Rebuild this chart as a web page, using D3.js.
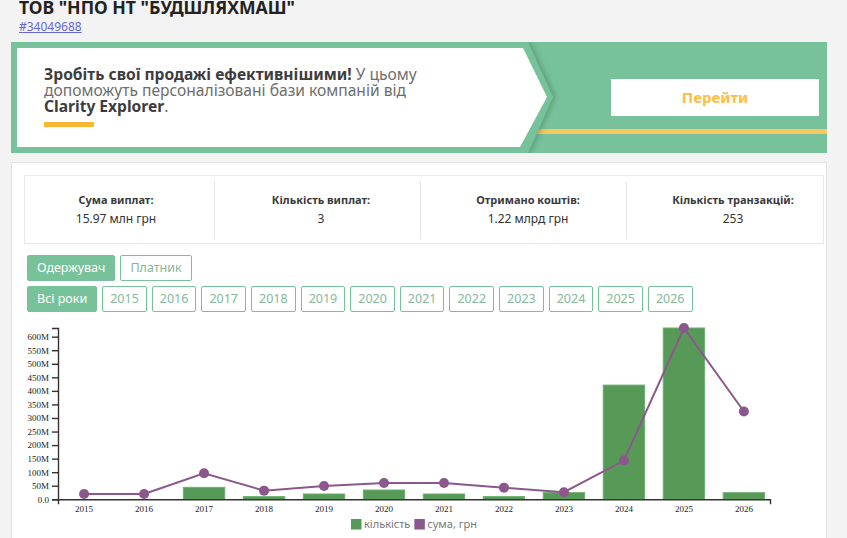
<!DOCTYPE html>
<html>
<head>
<meta charset="utf-8">
<script src="https://cdn.jsdelivr.net/npm/d3@7"></script>
<style>
  body { margin: 0; background: #f3f3f3; font-family: "Noto Sans", sans-serif; width: 847px; height: 538px; overflow: hidden; position: relative; }
  .abs { position: absolute; }
  #title { left: 19px; top: -5px; font-size: 17.6px; font-weight: 700; color: #222; white-space: nowrap; }
  #code { left: 19px; top: 18px; font-size: 12px; color: #6767d8; text-decoration: underline; }
  #banner { left: 11px; top: 42px; width: 816px; height: 111px; }
  #promo { left: 44px; top: 66px; font-size: 15.6px; line-height: 16px; color: #6e6e6e; white-space: nowrap; }
  #promo b { color: #3d3d3d; }
  #go { left: 611px; top: 79px; width: 208px; height: 37px; background: #fff; color: #fbbd45; font-weight: 700; font-size: 15px; text-align: center; line-height: 37px; }
  #card { left: 11px; top: 162px; width: 814px; height: 400px; background: #fff; border: 1px solid #e2e2e2; }
  #stats { left: 24px; top: 175px; width: 798px; height: 67px; border: 1px solid #e9e9e9; }
  .cell { top: 0; height: 67px; text-align: center; font-size: 12px; color: #333; }
  .cell .lab { font-weight: 700; font-size: 11px; margin-top: 16px; color: #3a3a3a; }
  .cell .val { margin-top: 3px; }
  .div { top: 5px; width: 1px; height: 58px; background: #e6e6e6; }
  .row { left: 27px; display: flex; gap: 5px; }
  .btn { height: 24px; line-height: 24px; border: 1px solid #78c29b; border-radius: 2px; padding: 0 9px; font-size: 12.5px; color: #84b89a; background: #fff; }
  #yrs .btn { padding: 0 7px; }
  #yrs .btn.on { padding: 0 9px; }
  .btn.on { background: #78c29b; color: #fff; }
</style>
</head>
<body>
<div id="title" class="abs">ТОВ "НПО НТ "БУДШЛЯХМАШ"</div>
<div id="code" class="abs">#34049688</div>
<svg id="banner" class="abs"></svg>
<div id="promo" class="abs"><b>Зробіть свої продажі ефективнішими!</b> У цьому<br>допоможуть персоналізовані бази компаній від<br><b>Clarity Explorer</b>.</div>
<div id="go" class="abs">Перейти</div>
<div id="card" class="abs"></div>
<div id="stats" class="abs"></div>
<div id="who" class="row abs" style="top:255px"></div>
<div id="yrs" class="row abs" style="top:286px"></div>
<svg id="chart" class="abs" style="left:0;top:0" width="847" height="538"></svg>
<script>
const years = ["2015", "2016", "2017", "2018", "2019", "2020", "2021", "2022", "2023", "2024", "2025", "2026"];
const counts = [0, 0, 9, 2, 4, 7, 4, 2, 5, 86, 129, 5];
const sums = [19.6e6, 19.6e6, 96e6, 32e6, 49e6, 60e6, 60e6, 43e6, 26e6, 143e6, 632e6, 324e6];
const statLabels = ["Сума виплат:", "Кількість виплат:", "Отримано коштів:", "Кількість транзакцій:"];
const statValues = ["15.97 млн грн", "3", "1.22 млрд грн", "253"];
const roles = ["Одержувач", "Платник"];
const legendNames = ["кількість", "сума, грн"];

const green = "#579a58";
const purple = "#8b578c";

// banner
const banner = d3.select("#banner");
banner.append("rect").attr("width", 816).attr("height", 111).attr("fill", "#78c29b");
const defs = banner.append("defs");
const f = defs.append("filter").attr("id", "sh").attr("x", "-10%").attr("y", "-10%").attr("width", "120%").attr("height", "120%");
f.append("feDropShadow").attr("dx", 2).attr("dy", 0).attr("stdDeviation", 3).attr("flood-color", "#3f7f5c").attr("flood-opacity", 0.6);
banner.append("rect").attr("x", 524).attr("y", 87).attr("width", 292).attr("height", 5).attr("fill", "#f8c95e");
banner.append("path")
  .attr("d", "M0,0 L517,0 L542,55 L517,111 L0,111 Z")
  .attr("fill", "#78c29b").attr("filter", "url(#sh)");
banner.append("path")
  .attr("d", "M6,6 L512,6 L536,55 L509,105 L6,105 Z")
  .attr("fill", "#fff");
banner.append("rect").attr("x", 33).attr("y", 80).attr("width", 50).attr("height", 5).attr("fill", "#fbb731");

// stats
const stats = d3.select("#stats");
const centers = [91, 296, 503, 708];
statLabels.forEach((l, i) => {
  const c = stats.append("div").attr("class", "cell abs")
    .style("left", (centers[i] - 100) + "px").style("width", "200px");
  c.append("div").attr("class", "lab").text(l);
  c.append("div").attr("class", "val").text(statValues[i]);
});
[189, 395, 601].forEach((x) => stats.append("div").attr("class", "div abs").style("left", x + "px"));

d3.select("#who").selectAll("div").data(roles).join("div")
  .attr("class", (d, i) => "btn" + (i === 0 ? " on" : "")).text((d) => d);
d3.select("#yrs").selectAll("div").data(["Всі роки"].concat(years)).join("div")
  .attr("class", (d, i) => "btn" + (i === 0 ? " on" : "")).text((d) => d);

// chart
const svg = d3.select("#chart");
const ox = 58, oy = 328, w = 712, h = 171.3;
const g = svg.append("g").attr("transform", `translate(${ox},${oy})`);

const x = d3.scaleBand().domain(years).range([0, w]).paddingInner(0.31).paddingOuter(0.09);
const y = d3.scaleLinear().domain([0, d3.max(sums)]).range([h, 0]);
const yc = d3.scaleLinear().domain([0, d3.max(counts)]).range([h, 0]);

g.selectAll(".bar").data(years).join("rect")
  .attr("class", "bar")
  .attr("x", (d) => x(d))
  .attr("y", (d, i) => yc(counts[i]))
  .attr("width", x.bandwidth())
  .attr("height", (d, i) => h - yc(counts[i]))
  .attr("fill", green).attr("stroke", "#6cae6d").attr("stroke-width", 1);

const cx = (d) => x(d) + x.bandwidth() / 2;
g.append("path")
  .datum(years)
  .attr("fill", "none").attr("stroke", purple).attr("stroke-width", 2)
  .attr("d", d3.line().x(cx).y((d, i) => y(sums[i])));
g.selectAll(".dot").data(years).join("circle")
  .attr("cx", cx).attr("cy", (d, i) => y(sums[i])).attr("r", 5).attr("fill", purple);

const xa = g.append("g").attr("transform", `translate(0,${h})`)
  .call(d3.axisBottom(x).tickSizeInner(0).tickSizeOuter(5).tickPadding(6));
const ya = g.append("g").call(d3.axisLeft(y).tickFormat(d3.format(".2s")).tickSizeOuter(6));
[xa, ya].forEach((a) => {
  a.selectAll("text").attr("font-family", "'Liberation Serif', serif").attr("font-size", 9).attr("fill", "#222");
  a.selectAll("path,line").attr("stroke", "#333").attr("stroke-width", 1.4);
});

const lg = svg.append("g").attr("transform", "translate(351,519)");
let lx = 0;
legendNames.forEach((n, i) => {
  lg.append("rect").attr("x", lx).attr("y", 0).attr("width", 10.5).attr("height", 10.5).attr("fill", i === 0 ? green : purple);
  const t = lg.append("text").attr("x", lx + 13).attr("y", 9).attr("font-size", 11)
    .attr("font-family", "'Noto Sans', sans-serif").attr("fill", "#777").text(n);
  lx += 13 + t.node().getComputedTextLength() + 4;
});
</script>
</body>
</html>
